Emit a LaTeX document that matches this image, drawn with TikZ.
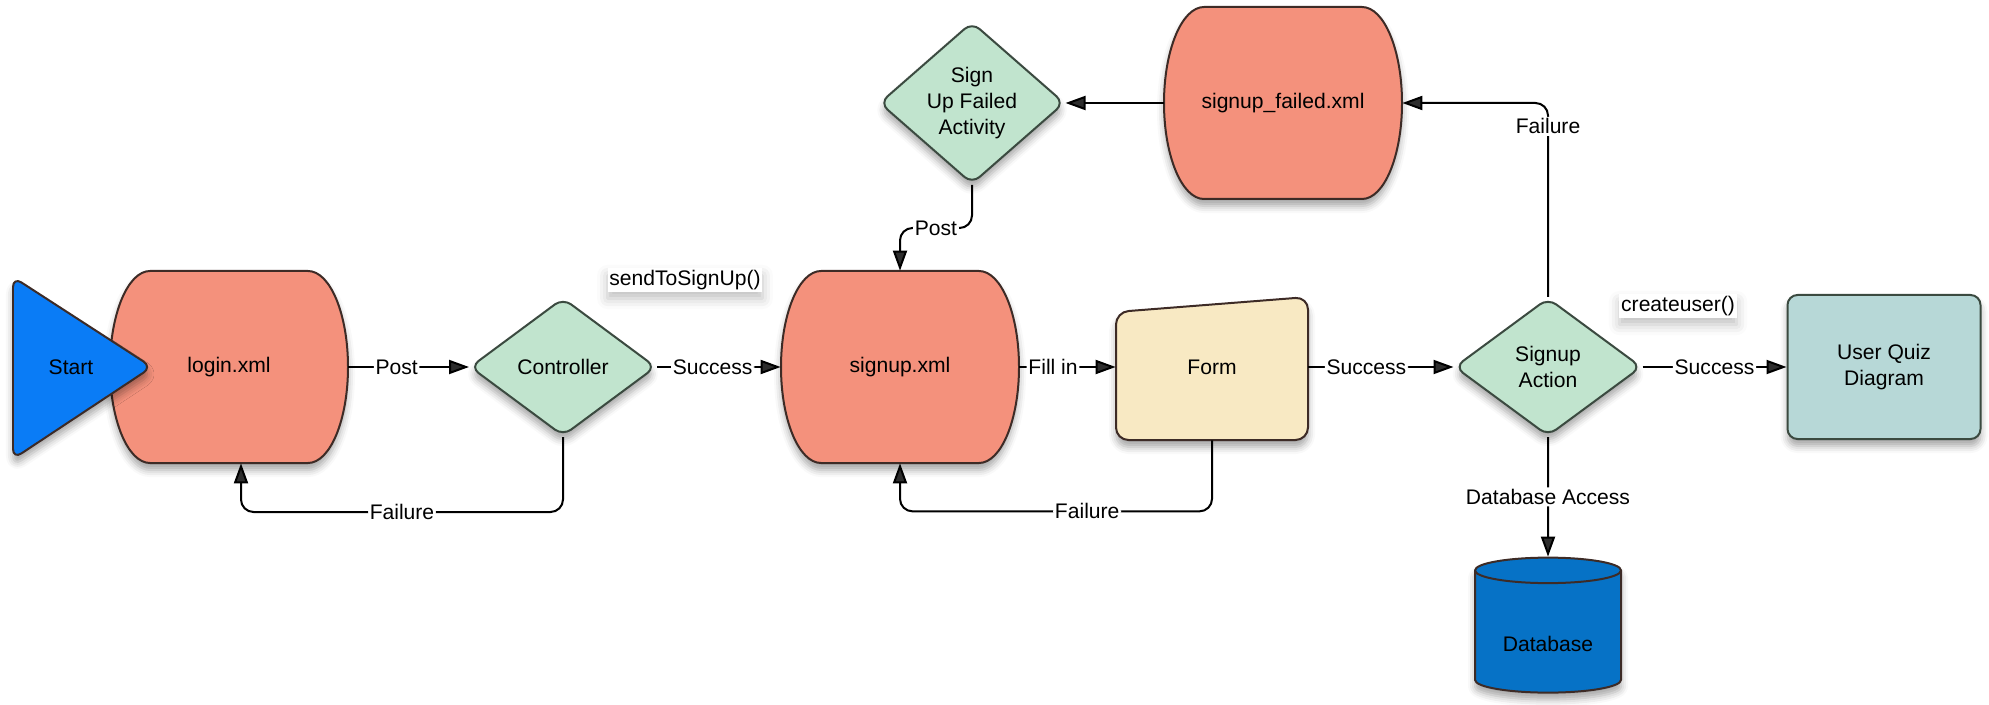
\documentclass[tikz,border=0pt]{standalone}
\usepackage{fontspec}
\setmainfont{Liberation Sans}
\usetikzlibrary{shapes.geometric,arrows.meta,shadows.blur}

\definecolor{xmlred}{HTML}{F4917C}
\definecolor{xmledge}{HTML}{3D2B26}
\definecolor{choicegreen}{HTML}{C1E4CE}
\definecolor{choiceedge}{HTML}{3B4A40}
\definecolor{startblue}{HTML}{0A7CF6}
\definecolor{formyellow}{HTML}{F8E9C3}
\definecolor{quizteal}{HTML}{B7D8D7}
\definecolor{dbblue}{HTML}{0672C6}

\tikzset{
  softshadow/.style={blur shadow={shadow xshift=0pt, shadow yshift=-4pt, shadow blur radius=4pt, shadow opacity=35}},
  choice/.style={diamond, draw=choiceedge, fill=choicegreen, line width=0.04cm, rounded corners=0.2cm, inner sep=0pt, align=center, softshadow},
  xmlfill/.style={draw=xmledge, fill=xmlred, line width=0.04cm, softshadow},
  xmlfile/.style={minimum width=4.76cm, minimum height=3.84cm},
  flow/.style={-{Triangle[length=0.4cm,width=0.28cm]}, line width=0.04cm, rounded corners=0.25cm},
  lbl/.style={fill=white, inner sep=1pt},
  callname/.style={fill=white, inner sep=1pt, blur shadow={shadow xshift=0pt, shadow yshift=-4pt, shadow blur radius=6pt, shadow opacity=25}},
}
% outline of an xml file box, centred at #1
\newcommand{\xmlshape}[1]{%
  \path[xmlfill] (#1) ++(-1.58,1.92) -- ++(3.16,0)
    arc[start angle=90, end angle=-90, x radius=0.8, y radius=1.92]
    -- ++(-3.16,0)
    arc[start angle=270, end angle=90, x radius=0.8, y radius=1.92] -- cycle;}

\begin{document}
\begin{tikzpicture}[font=\fontsize{12}{14.8}\selectfont]
		\useasboundingbox (0,0) rectangle (39.78,14.08);

		% xml files
		\xmlshape{4.58,6.74}
		\node[xmlfile] (login) at (4.58,6.74) {login.xml};
		\xmlshape{18.0,6.74}
		\node[xmlfile] (signup) at (18.0,6.74) {signup.xml};
		\xmlshape{25.66,12.02}
		\node[xmlfile] (sfail) at (25.66,12.02) {signup\_failed.xml};

		% start
		\draw[draw=xmledge, fill=startblue, line width=0.04cm, rounded corners=0.2cm, softshadow] (0.26,8.54) -- (3.04,6.74) -- (0.26,4.9) -- cycle;
		\node (start) at (1.42,6.74) {Start};

		% decisions
		\node[choice, minimum width=3.72cm, minimum height=2.76cm] (ctrl) at (11.26,6.74) {Controller};
		\node[choice, minimum width=3.7cm, minimum height=3.24cm] (sufa) at (19.44,12.02) {Sign\\Up Failed\\Activity};
		\node[choice, minimum width=3.74cm, minimum height=2.76cm] (sact) at (30.96,6.74) {Signup\\Action};

		% form
		\draw[draw=xmledge, fill=formyellow, line width=0.04cm, rounded corners=0.25cm, softshadow] (22.32,7.84) -- (26.16,8.14) -- (26.16,5.28) -- (22.32,5.28) -- cycle;
		\node[minimum width=3.84cm, minimum height=2.92cm] (form) at (24.24,6.74) {Form};

		\node[draw=choiceedge, fill=quizteal, line width=0.04cm, rounded corners=0.2cm, minimum width=3.86cm, minimum height=2.88cm, align=center, softshadow] (quiz) at (37.68,6.74) {User Quiz\\Diagram};
		\node[cylinder, shape border rotate=90, aspect=0.25, draw=xmledge, fill=dbblue, line width=0.04cm, minimum width=2.92cm, minimum height=2.7cm, text height=0.7cm, softshadow] (db) at (30.96,1.39) {Database};

		% method names
		\node[callname] (send) at (13.7,8.48) {sendToSignUp()};
		\node[callname] (create) at (33.56,7.96) {createuser()};

		% flows
		\draw[flow] (login) -- node[lbl,pos=0.4] {Post} (ctrl);
		\draw[flow] (ctrl) -- node[lbl,pos=0.45] {Success} (signup);
		\draw[flow] (ctrl.south) -- ++(0,-1.5) -| node[lbl,pos=0.25] {Failure} ([xshift=0.24cm]login.south);
		\draw[flow] (signup) -- node[lbl,pos=0.35] {Fill in} (form);
		\draw[flow] (form) -- node[lbl,pos=0.4] {Success} (sact);
		\draw[flow] (form.south) -- ++(0,-1.42) -| node[lbl,pos=0.2] {Failure} (signup.south);
		\draw[flow] (sact) -- node[lbl] {Success} (quiz);
		\draw[flow] (sact) -- node[lbl] {Database Access} (db);
		\draw[flow] (sact.north) |- node[lbl,pos=0.44] {Failure} (sfail.east);
		\draw[flow] (sfail.west) -- (sufa.east);
		\draw[flow] (sufa.south) -- ++(0,-0.86) -| node[lbl,pos=0.25] {Post} (signup.north);
\end{tikzpicture}
\end{document}
